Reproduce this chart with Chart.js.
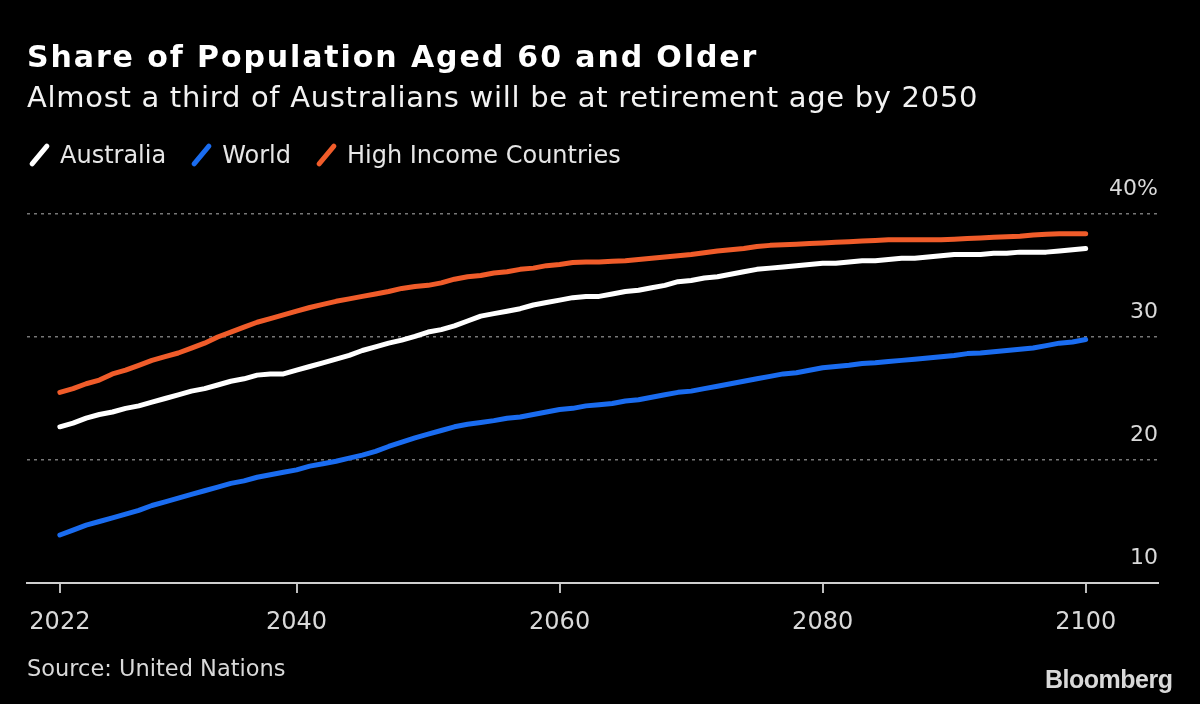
<!DOCTYPE html>
<html>
<head>
<meta charset="utf-8">
<script src="https://cdn.jsdelivr.net/npm/chart.js@4.4.0/dist/chart.umd.min.js"></script>
<style>
  html, body { margin:0; padding:0; background:#000; }
  #wrap { position:relative; width:1200px; height:704px; background:#000; overflow:hidden; font-family:"DejaVu Sans", sans-serif; }
  #chart { position:absolute; left:0; top:0; }
  .t { position:absolute; white-space:nowrap; }
  #title { left:27px; top:40px; font-size:30px; font-weight:bold; color:#fff; line-height:34px; letter-spacing:1.9px; }
  #subtitle { left:27px; top:80px; font-size:29px; color:#f2f2f2; line-height:34px; letter-spacing:0.7px; }
  #legend { left:29px; top:140px; font-size:24px; color:#e6e6e6; line-height:30px; display:flex; align-items:center; }
  .item { display:flex; align-items:center; margin-right:25px; }
  .markbox { position:relative; display:inline-block; width:21px; height:26px; margin-right:10px; }
  .mark { position:absolute; left:8px; top:-1px; width:5px; height:28px; border-radius:2.5px; transform:rotate(40deg); }
  #source { left:27px; top:654px; font-size:22.5px; color:#d9d9d9; line-height:28px; }
  #logo { left:1045px; top:665px; font-family:"Liberation Sans", Arial, sans-serif; font-weight:bold; font-size:25px; color:#d9d9d9; letter-spacing:-0.5px; line-height:28px; }
</style>
</head>
<body>
<div id="wrap">
  <canvas id="chart" width="1200" height="704"></canvas>
  <div class="t" id="title">Share of Population Aged 60 and Older</div>
  <div class="t" id="subtitle">Almost a third of Australians will be at retirement age by 2050</div>
  <div class="t" id="legend">
    <span class="item"><span class="markbox"><span class="mark" style="background:#ffffff"></span></span>Australia</span>
    <span class="item"><span class="markbox"><span class="mark" style="background:#1a6cf0"></span></span>World</span>
    <span class="item"><span class="markbox"><span class="mark" style="background:#f05c2a"></span></span>High Income Countries</span>
  </div>
  <div class="t" id="source">Source: United Nations</div>
  <div class="t" id="logo">Bloomberg</div>
</div>
<script>
// ---- Data (share of population aged 60+, %) ----
const firstYear = 2022;
const lastYear = 2100;
const xTickYears = [2022, 2040, 2060, 2080, 2100];
const yTickValues = [10, 20, 30, 40];

const australia = [
  22.7, 23.0, 23.4, 23.7, 23.9, 24.2, 24.4, 24.7, 25.0, 25.3,
  25.6, 25.8, 26.1, 26.4, 26.6, 26.9, 27.0, 27.0, 27.3, 27.6,
  27.9, 28.2, 28.5, 28.9, 29.2, 29.5, 29.75, 30.05, 30.4, 30.6,
  30.9, 31.3, 31.7, 31.9, 32.1, 32.3, 32.6, 32.8, 33.0, 33.2,
  33.3, 33.3, 33.5, 33.7, 33.8, 34.0, 34.2, 34.5, 34.6, 34.8,
  34.9, 35.1, 35.3, 35.5, 35.6, 35.7, 35.8, 35.9, 36.0, 36.0,
  36.1, 36.2, 36.2, 36.3, 36.4, 36.4, 36.5, 36.6, 36.7, 36.7,
  36.7, 36.8, 36.8, 36.9, 36.9, 36.9, 37.0, 37.1, 37.2
];
const world = [
  13.9, 14.3, 14.7, 15.0, 15.3, 15.6, 15.9, 16.3, 16.6, 16.9,
  17.2, 17.5, 17.8, 18.1, 18.3, 18.6, 18.8, 19.0, 19.2, 19.5,
  19.7, 19.9, 20.15, 20.4, 20.7, 21.1, 21.45, 21.8, 22.1, 22.4,
  22.7, 22.9, 23.05, 23.2, 23.4, 23.5, 23.7, 23.9, 24.1, 24.2,
  24.4, 24.5, 24.6, 24.8, 24.9, 25.1, 25.3, 25.5, 25.6, 25.8,
  26.0, 26.2, 26.4, 26.6, 26.8, 27.0, 27.1, 27.3, 27.5, 27.6,
  27.7, 27.85, 27.9, 28.0, 28.1, 28.2, 28.3, 28.4, 28.5, 28.65,
  28.7, 28.8, 28.9, 29.0, 29.1, 29.3, 29.5, 29.6, 29.8, 29.9
].slice(0, 79);
const highIncome = [
  25.5, 25.8, 26.2, 26.5, 27.0, 27.3, 27.7, 28.1, 28.4, 28.7,
  29.1, 29.5, 30.0, 30.4, 30.8, 31.2, 31.5, 31.8, 32.1, 32.4,
  32.65, 32.9, 33.1, 33.3, 33.5, 33.7, 33.95, 34.1, 34.2, 34.4,
  34.7, 34.9, 35.0, 35.2, 35.3, 35.5, 35.6, 35.8, 35.9, 36.05,
  36.1, 36.1, 36.15, 36.2, 36.3, 36.4, 36.5, 36.6, 36.7, 36.85,
  37.0, 37.1, 37.2, 37.35, 37.45, 37.5, 37.55, 37.6, 37.65, 37.7,
  37.75, 37.8, 37.85, 37.9, 37.9, 37.9, 37.9, 37.9, 37.95, 38.0,
  38.05, 38.1, 38.15, 38.2, 38.3, 38.35, 38.4, 38.4, 38.4
];

const years = [];
for (let y = firstYear; y <= lastYear; y++) years.push(y);
const toPoints = arr => years.map((yr, i) => ({ x: yr, y: arr[i] }));

const lineStyle = { pointRadius: 0, borderWidth: 5, tension: 0, borderCapStyle: 'round', borderJoinStyle: 'round', fill: false };

new Chart(document.getElementById('chart'), {
  type: 'line',
  data: {
    datasets: [
      Object.assign({ label: 'World', data: toPoints(world), borderColor: '#1a6cf0' }, lineStyle),
      Object.assign({ label: 'Australia', data: toPoints(australia), borderColor: '#ffffff' }, lineStyle),
      Object.assign({ label: 'High Income Countries', data: toPoints(highIncome), borderColor: '#f05c2a' }, lineStyle)
    ]
  },
  options: {
    responsive: false,
    animation: false,
    devicePixelRatio: 1,
    layout: { padding: { left: 27, right: 42, top: 214, bottom: 71 } },
    plugins: { legend: { display: false }, tooltip: { enabled: false }, title: { display: false } },
    scales: {
      x: {
        type: 'linear',
        min: 2019.5,
        max: 2105.5,
        afterBuildTicks: s => { s.ticks = xTickYears.map(v => ({ value: v })); },
        afterFit: s => { s.height = 50; },
        grid: { drawOnChartArea: false, drawTicks: true, tickLength: 10, color: '#bdbdbd', lineWidth: 2 },
        border: { display: true, color: '#cfcfcf', width: 2 },
        ticks: { color: '#d9d9d9', font: { family: 'DejaVu Sans', size: 24 }, padding: 15, maxRotation: 0, autoSkip: false, callback: v => String(v) }
      },
      y: {
        position: 'right',
        min: 10,
        max: 40,
        afterBuildTicks: s => { s.ticks = yTickValues.map(v => ({ value: v })); },
        grid: { color: '#777777', lineWidth: 1.5, drawTicks: false },
        border: { display: false, dash: [3, 4] },
        ticks: { mirror: true, padding: 0, labelOffset: -25, color: '#d9d9d9', font: { family: 'DejaVu Sans', size: 22 }, callback: v => v === 40 ? '40%' : String(v) }
      }
    }
  }
});
</script>
</body>
</html>
